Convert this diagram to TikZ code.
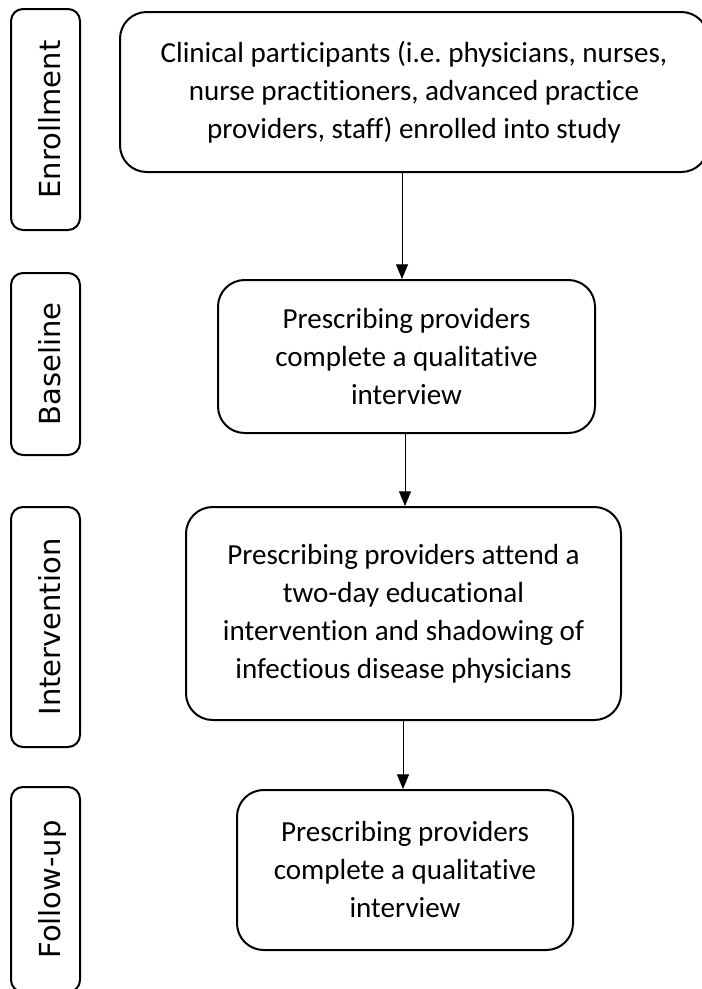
\documentclass[tikz,border=0pt]{standalone}
\usepackage{fontspec}
\setmainfont{Carlito}[Ligatures=NoCommon]
\newfontfamily\labelfont{DejaVu Sans}
\usetikzlibrary{arrows.meta,positioning,calc}
\frenchspacing

\begin{document}
\begin{tikzpicture}[x=0.75pt,y=-0.75pt,
    stage/.style={draw,line width=1.5pt,rounded corners=20pt,align=center,inner sep=0pt,font=\fontsize{21.8}{28.5}\selectfont},
    phase/.style={draw,line width=1.5pt,rounded corners=9pt,rotate=90,minimum height=51.75pt,inner sep=0pt,text height=23pt,text depth=0pt,font=\labelfont\fontsize{21.75}{26}\selectfont},
    arrow/.style={-{Triangle[length=11pt,width=9pt]},line width=0.75pt}]
    \useasboundingbox (0,0) rectangle (702,989);
    % phase labels on the left
    \node[phase,minimum width=165.75pt] (enroll) at (45.5,119.5) {Enrollment};
    \node[phase,minimum width=136.5pt] (baseline) at (45.5,364) {Baseline};
    \node[phase,minimum width=180pt] (interv) at (45.5,627) {Intervention};
    \node[phase,minimum width=153.75pt] (follow) at (45.5,889.5) {Follow-up};
    % study steps
    \node[stage,minimum width=441pt,minimum height=120pt] (s1) at (414,92)
        {Clinical participants (i.e. physicians, nurses,\\nurse practitioners, advanced practice\\providers, staff) enrolled into study};
    \node[stage,minimum width=282.75pt,minimum height=114.75pt] (s2) at (406.5,356.5)
        {Prescribing providers\\complete a qualitative\\interview};
    \node[stage,minimum width=326.25pt,minimum height=159.75pt] (s3) at (403.5,613.5)
        {Prescribing providers attend a\\two-day educational\\intervention and shadowing of\\infectious disease physicians};
    \node[stage,minimum width=252pt,minimum height=120pt] (s4) at (405,870)
        {Prescribing providers\\complete a qualitative\\interview};
    \draw[arrow] (s1.south -| 402,0) -- (s2.north -| 402,0);
    \draw[arrow] (s2.south -| 405,0) -- (s3.north -| 405,0);
    \draw[arrow] (s3.south -| 403,0) -- (s4.north -| 403,0);
\end{tikzpicture}
\end{document}
